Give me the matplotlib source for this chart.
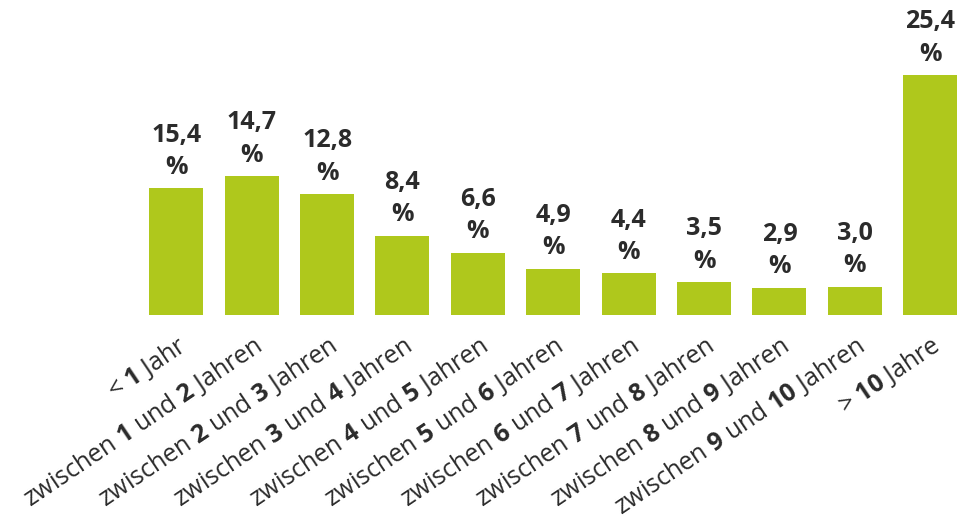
import matplotlib
matplotlib.use("Agg")
import matplotlib.pyplot as plt

plt.rcParams['font.family'] = ['Open Sans', 'DejaVu Sans']
plt.rcParams['mathtext.fontset'] = 'custom'
plt.rcParams['mathtext.rm'] = 'Open Sans'
plt.rcParams['mathtext.bf'] = 'Open Sans:bold'

categories = [
    r"< $\mathbf{1}$ Jahr",
    r"zwischen $\mathbf{1}$ und $\mathbf{2}$ Jahren",
    r"zwischen $\mathbf{2}$ und $\mathbf{3}$ Jahren",
    r"zwischen $\mathbf{3}$ und $\mathbf{4}$ Jahren",
    r"zwischen $\mathbf{4}$ und $\mathbf{5}$ Jahren",
    r"zwischen $\mathbf{5}$ und $\mathbf{6}$ Jahren",
    r"zwischen $\mathbf{6}$ und $\mathbf{7}$ Jahren",
    r"zwischen $\mathbf{7}$ und $\mathbf{8}$ Jahren",
    r"zwischen $\mathbf{8}$ und $\mathbf{9}$ Jahren",
    r"zwischen $\mathbf{9}$ und $\mathbf{10}$ Jahren",
    r"> $\mathbf{10}$ Jahre",
]
# bar heights as drawn (first bar is drawn shorter than its label says)
heights = [13.4, 14.7, 12.8, 8.4, 6.6, 4.9, 4.4, 3.5, 2.9, 3.0, 25.4]
value_labels = ["15,4", "14,7", "12,8", "8,4", "6,6", "4,9", "4,4", "3,5", "2,9", "3,0", "25,4"]

green = '#afc81c'
textc = '#2b2b2b'

fig = plt.figure(figsize=(9.57, 5.29), dpi=100)
ax = fig.add_axes([138.6/957, 214/529, 818/957, 255/529])

x = range(len(heights))
ax.bar(x, heights, width=0.716, color=green)

for i, h in enumerate(heights):
    ax.annotate(value_labels[i] + "\n%", (i, h), xytext=(0, 6), textcoords='offset points',
                ha='center', va='bottom', fontsize=18, fontweight='bold',
                color=textc, linespacing=1.4)

ax.set_xlim(-0.5, 10.35)
ax.set_ylim(0, 27)
ax.set_xticks(list(x))
ax.set_xticklabels(categories, rotation=34, ha='right', rotation_mode='anchor',
                   fontsize=18, color=textc)
ax.tick_params(axis='x', length=0, pad=12)
ax.set_yticks([])
for s in ax.spines.values():
    s.set_visible(False)

fig.savefig("out.png", dpi=100)
